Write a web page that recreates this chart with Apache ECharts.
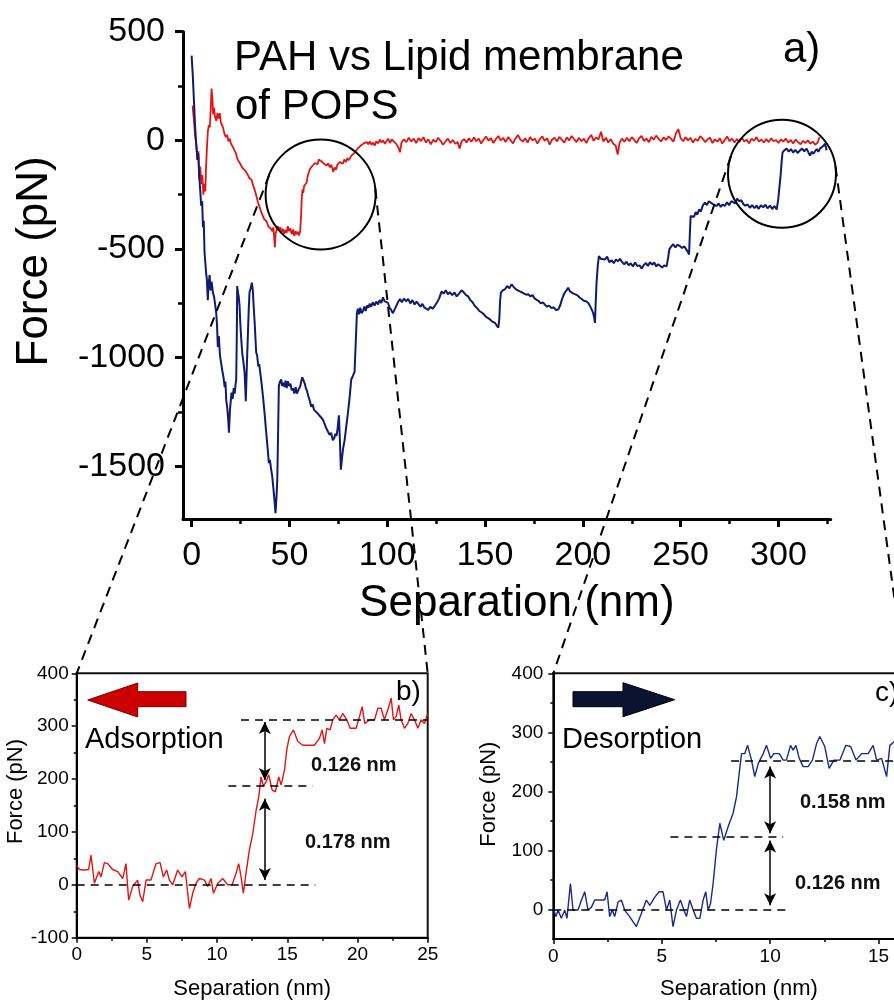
<!DOCTYPE html>
<html><head><meta charset="utf-8">
<script src="https://cdn.jsdelivr.net/npm/echarts@6/dist/echarts.min.js"></script>
<style>html,body{margin:0;padding:0;background:#fff}#c{width:894px;height:1001px}</style>
</head><body><div id="c"></div>
<script>
// ---------- data (nm, pN) ----------
const redMain = [
[0.5,160],[1.2,90],[1.8,20],[2.4,-20],[3.0,-90],[3.5,-50],[3.9,-180],[4.4,-120],[5.0,-200],[5.5,-160],[6.0,-250],[6.5,-200],[7.0,-235],[7.4,-120],[7.8,-40],[8.3,40],[8.8,70],[9.3,60],[9.8,150],[10.2,238],[10.6,200],[11.0,120],[11.5,150],[12.0,105],[12.6,90],[13.2,125],[13.8,100],[14.4,125],[15.0,80],[15.6,70],[16.2,54],[16.8,30],[17.5,15],[18.2,25],[18.8,-5],[19.5,8],[20.1,-15],[20.8,-12],[21.4,-35],[22.0,-48],[22.7,-60],[23.4,-85],[24.1,-92],[24.7,-105],[25.4,-112],[26.1,-128],[26.8,-122],[27.5,-140],[28.1,-135],[28.8,-160],[29.4,-172],[30.1,-168],[30.7,-182],[31.4,-205],[32.0,-222],[32.6,-240],[33.3,-262],[33.9,-285],[34.5,-300],[35.2,-318],[35.8,-335],[36.6,-340],[37.1,-362],[37.6,-358],[38.3,-372],[38.8,-385],[39.4,-398],[40.0,-392],[40.7,-408],[41.3,-418],[41.8,-400],[42.2,-445],[42.6,-492],[42.9,-430],[43.5,-412],[44.1,-395],[44.7,-415],[45.3,-400],[46.0,-422],[46.7,-407],[47.3,-430],[47.9,-412],[48.6,-425],[49.2,-395],[49.8,-418],[50.5,-405],[51.2,-432],[51.9,-410],[52.5,-440],[53.1,-418],[53.7,-432],[54.3,-420],[54.9,-438],[55.5,-418],[56.0,-340],[56.3,-265],[56.7,-225],[57.1,-242],[57.5,-210],[58.1,-218],[58.8,-195],[59.3,-165],[59.8,-150],[60.5,-132],[61.1,-140],[61.7,-118],[62.4,-124],[63.0,-105],[63.7,-98],[64.4,-110],[65.0,-88],[65.6,-84],[66.3,-96],[67.0,-90],[67.7,-108],[68.4,-100],[69.1,-116],[69.8,-106],[70.7,-124],[71.4,-112],[72.0,-132],[72.4,-146],[73.1,-125],[73.8,-135],[74.5,-112],[75.2,-118],[75.8,-100],[76.6,-92],[77.3,-108],[78.0,-88],[78.8,-100],[79.6,-82],[80.3,-92],[80.9,-85],[81.7,-70],[82.5,-78],[83.3,-58],[84.0,-50],[84.8,-38],[85.5,-44],[86.3,-25],[87.0,-32],[87.8,-15],[88.6,-24],[89.5,-8],[90.3,-18],[91.1,-5],[92.0,-20],[92.8,-10],[93.6,-24],[94.4,-4],[95.3,-14],[96.2,4],[97.0,-10],[97.9,0],[98.8,-16],[99.6,-4],[100.5,8],[101.4,-12],[102.3,4],
[103.2,2],[104.5,-15],[105.8,-35],[106.5,-55],[107.3,-10],[108.5,5],[109.8,-8],[111.0,12],[112.3,-5],[113.5,8],[114.8,-12],[116.0,10],[117.3,-3],[118.5,15],[119.8,-10],[121.0,5],[122.3,-18],[123.5,3],[124.8,-8],[126.0,12],[127.3,-2],[128.5,-20],[129.8,-5],[131.0,8],[132.3,-12],[133.5,2],[134.8,-15],[136.0,-8],[137.0,-38],[138.0,-5],[139.3,6],[140.5,-10],[141.8,10],[143.0,-6],[144.3,14],[145.5,-4],[146.8,8],[148.0,-15],[149.3,4],[150.5,18],[151.8,-2],[153.0,10],[154.3,-12],[155.5,6],[156.8,20],[158.0,0],[159.3,12],[160.5,-8],[161.8,15],[163.0,2],[164.3,-14],[165.5,8],[166.8,25],[168.0,5],[169.3,-6],[170.5,10],[171.8,-10],[173.0,15],[174.3,0],[175.5,8],[176.8,-15],[178.0,6],[179.3,18],[180.5,-2],[181.8,10],[183.0,-20],[184.3,4],[185.5,12],[186.8,-5],[188.0,16],[189.3,2],[190.5,-10],[191.8,14],[193.0,0],[194.3,20],[195.5,6],[196.8,-8],[198.0,12],[199.3,-4],[200.5,8],[201.8,-12],[203.0,10],[204.3,25],[205.5,-2],[206.8,14],[208.0,4],[209.3,40],[210.5,-5],[211.8,12],[213.0,-10],[214.3,6],[215.5,-15],[216.8,-25],[217.8,-65],[218.8,-10],[220.0,8],[221.3,-6],[222.5,12],[223.8,-4],[225.0,15],[226.3,2],[227.5,-12],[228.8,10],[230.0,20],[231.3,-3],[232.5,8],[233.8,-8],[235.0,16],[236.3,4],[237.5,22],[238.8,6],[240.0,-5],[241.3,14],[242.5,2],[243.8,18],[245.0,8],[246.3,-6],[247.5,30],[248.8,52],[250.0,10],[251.3,-4],[252.5,15],[253.8,0],[255.0,12],[256.3,-10],[257.5,6],[258.8,-2],[260.0,20],[261.3,8],[262.5,-8],[263.8,5],[265.0,12],[266.3,-12],[267.5,4],[268.8,-6],[270.0,10],[271.3,-15],[272.5,2],[273.8,18],[275.0,-4],[276.3,8],[277.5,-10],[278.8,6],[280.0,-8],[281.3,12],[282.5,-5],[283.8,3],[285.0,-14],[286.3,8],[287.5,-2],[288.8,15],[290.0,-6],[291.3,4],[292.5,-10],[293.8,6],[295.0,-8],[296.3,10],[297.5,-4],[298.8,2],[300.0,-12],[301.3,5],[302.5,-6],[303.8,8],[305.0,-10],[306.3,2],[307.5,-14],[308.8,4],[310.0,-8],[311.3,-18],[312.5,-2],[313.8,-12],[315.0,0],[316.3,-15],[317.5,-6],[318.8,-20],[320.0,-10],[321.0,15]
];
const blueMain = [
[0,390],[0.6,300],[1.2,180],[1.8,60],[2.4,-23],[3.0,-90],[3.4,-60],[3.8,-150],[4.4,-230],[4.9,-300],[5.4,-280],[5.8,-400],[6.2,-370],[6.6,-515],[7.0,-560],[7.4,-610],[7.8,-640],[8.3,-735],[8.7,-660],[9.2,-620],[9.7,-690],[10.2,-650],[10.9,-700],[11.5,-720],[12.1,-760],[12.6,-795],[13.0,-850],[13.4,-950],[13.9,-900],[14.5,-990],[15.1,-1025],[15.7,-1060],[16.3,-1090],[16.9,-1135],[17.3,-1110],[17.7,-1195],[18.2,-1230],[18.7,-1280],[19.1,-1345],[19.6,-1240],[20.0,-1200],[20.4,-1160],[21.0,-1190],[21.5,-1140],[22.0,-1165],[22.5,-1120],[22.8,-1100],[23.1,-900],[23.3,-670],[23.7,-700],[24.1,-720],[24.5,-760],[25.0,-860],[25.5,-930],[25.9,-980],[26.5,-1020],[27.1,-1070],[27.4,-1130],[27.7,-1200],[28.2,-1050],[28.8,-885],[29.2,-780],[29.6,-700],[30.2,-680],[30.8,-655],[31.3,-690],[31.7,-760],[32.3,-850],[33.0,-975],[33.5,-990],[34.1,-1040],[34.6,-1030],[35.1,-1070],[35.8,-1120],[36.5,-1180],[37.3,-1255],[38.0,-1330],[38.7,-1400],[39.5,-1485],[40.0,-1470],[40.6,-1510],[41.2,-1545],[41.8,-1600],[42.4,-1660],[42.9,-1715],[43.4,-1640],[43.8,-1560],[44.2,-1350],[44.6,-1130],[45.2,-1110],[45.8,-1100],[46.3,-1130],[46.9,-1115],[47.5,-1135],[48.0,-1105],[48.6,-1140],[49.2,-1108],[49.8,-1130],[50.5,-1120],[51.2,-1150],[51.8,-1140],[52.5,-1165],[53.2,-1135],[53.8,-1165],[54.3,-1155],[55.0,-1140],[55.6,-1130],[56.0,-1110],[56.6,-1090],[57.3,-1095],[57.9,-1120],[58.4,-1140],[58.9,-1150],[59.6,-1175],[60.3,-1195],[61.2,-1225],[61.9,-1215],[62.6,-1240],[63.5,-1235],[64.6,-1258],[65.4,-1250],[66.2,-1275],[67.1,-1285],[67.8,-1300],[68.6,-1320],[69.3,-1315],[69.7,-1340],[70.5,-1355],[71.3,-1345],[72.2,-1380],[72.9,-1370],[73.5,-1350],[74.1,-1360],[74.7,-1320],[75.3,-1265],[75.8,-1380],[76.3,-1515],[76.8,-1470],[77.4,-1420],[78.2,-1380],[79.0,-1320],[79.9,-1255],[80.8,-1180],[81.6,-1100],[82.4,-1085],[83.3,-1065],[83.9,-930],[84.5,-795],[85.0,-775],[85.6,-800],[86.2,-770],[86.9,-795],[87.6,-785],[88.3,-765],[89.0,-785],[89.7,-760],[90.4,-770],[91.0,-752],[91.8,-765],[92.6,-745],[93.5,-760],[94.4,-742],[95.3,-755],[96.1,-735],[97.0,-748],[97.8,-722],[98.6,-740],[99.4,-735],[100.4,-748],[101.2,-770],[102.0,-780],[102.9,-795],[103.9,-792],[104.7,-760],[105.5,-745],[106.5,-730],[107.5,-745],[108.5,-728],[109.6,-740],[110.7,-730],[111.8,-750],[112.9,-735],[114.0,-755],[115.0,-742],[115.9,-748],[117.0,-765],[118.0,-752],[119.0,-770],[120.0,-762],[121.0,-780],[122.0,-765],[123.2,-775],[124.4,-760],[125.5,-745],[126.5,-728],[127.8,-695],[128.8,-705],[130.0,-690],[131.0,-708],[132.0,-698],[133.2,-712],[134.4,-700],[135.5,-718],[136.7,-705],[138.0,-690],[139.2,-700],[140.3,-712],[141.4,-718],[142.5,-735],[143.6,-745],[144.8,-762],[146.0,-772],[147.1,-785],[148.3,-792],[149.4,-800],[150.5,-812],[151.6,-818],[152.7,-825],[153.9,-835],[155.1,-840],[156.0,-852],[156.8,-862],[157.3,-820],[157.7,-740],[158.1,-700],[159.0,-690],[160.2,-685],[161.3,-670],[162.4,-680],[163.6,-662],[164.7,-675],[165.8,-685],[166.8,-680],[167.8,-695],[169.0,-700],[170.0,-692],[171.0,-710],[172.1,-708],[173.2,-718],[174.3,-712],[175.4,-728],[176.4,-732],[177.5,-740],[178.5,-750],[179.6,-745],[180.6,-756],[181.7,-765],[182.8,-760],[184.0,-772],[185.1,-768],[186.2,-780],[187.4,-778],[188.4,-760],[189.2,-735],[190.0,-715],[190.8,-700],[191.6,-690],[192.5,-678],[193.4,-695],[194.3,-688],[195.2,-705],[196.0,-700],[197.1,-712],[198.2,-722],[199.4,-730],[200.5,-738],[201.6,-740],[202.8,-748],[203.8,-765],[204.6,-780],[205.3,-795],[205.8,-815],[206.2,-840],[206.6,-740],[207.0,-655],[207.6,-580],[208.2,-532],[209.2,-545],[210.2,-538],[211.3,-548],[212.4,-535],[213.5,-560],[214.7,-552],[215.8,-565],[216.9,-548],[218.0,-556],[219.0,-545],[220.1,-560],[221.2,-570],[222.3,-558],[223.4,-575],[224.5,-565],[225.6,-580],[226.7,-562],[227.8,-578],[229.0,-575],[230.1,-590],[231.2,-572],[232.3,-565],[233.3,-578],[234.3,-560],[235.4,-572],[236.5,-562],[237.5,-580],[238.5,-570],[239.4,-568],[240.5,-585],[241.6,-575],[242.8,-580],[243.6,-540],[244.2,-502],[245.0,-490],[246.2,-478],[247.3,-492],[248.4,-480],[249.6,-486],[250.7,-495],[251.9,-488],[253.1,-505],[253.8,-515],[254.3,-525],[254.7,-430],[255.1,-348],[256.0,-340],[256.8,-352],[257.7,-330],[258.5,-342],[259.4,-318],[260.3,-328],[261.3,-300],[262.4,-286],[263.4,-298],[264.4,-280],[265.4,-275],[266.3,-292],[267.3,-285],[268.4,-302],[269.4,-290],[270.5,-306],[271.5,-295],[272.6,-302],[273.7,-285],[274.8,-298],[275.9,-280],[276.9,-276],[277.9,-290],[278.9,-268],[279.9,-280],[281.0,-275],[282.0,-293],[283.1,-300],[284.2,-295],[285.4,-310],[286.5,-298],[287.7,-312],[288.8,-300],[289.9,-315],[291.0,-298],[292.2,-308],[293.3,-296],[294.4,-312],[295.7,-300],[296.8,-316],[297.9,-302],[299.1,-318],[299.9,-270],[300.5,-215],[301.1,-160],[301.6,-100],[302.1,-55],[303.1,-45],[304.2,-38],[305.3,-52],[306.4,-40],[307.5,-56],[308.6,-44],[309.8,-58],[311.0,-46],[312.1,-38],[313.2,-50],[314.4,-38],[315.3,-55],[316.1,-70],[317.0,-52],[317.9,-62],[318.7,-50],[319.6,-40],[320.4,-52],[321.2,-38],[322.1,-45],[323.0,-25],[323.8,-15],[324.6,-45]
];
const redB = [
[0,37],[0.19,29],[0.54,28],[0.85,29],[1.02,56],[1.26,3],[1.57,25],[1.73,15],[1.97,42],[2.21,40],[2.56,29],[2.92,25],[3.28,12],[3.51,40],[3.70,-29],[3.99,-3],[4.34,9],[4.51,-20],[4.70,-32],[4.94,9],[5.29,9],[5.65,40],[5.94,42],[6.17,15],[6.41,28],[6.60,9],[6.84,0],[7.19,28],[7.50,15],[7.74,25],[8.03,-45],[8.26,-16],[8.50,3],[8.74,12],[9.10,9],[9.33,-3],[9.57,12],[9.74,-16],[10.05,3],[10.40,12],[10.76,0],[11.07,0],[11.35,22],[11.54,40],[11.71,15],[11.87,-16],[12.06,22],[12.30,66],[12.54,97],[12.78,141],[12.97,167],[13.13,204],[13.30,186],[13.49,195],[13.68,208],[13.92,179],[14.15,176],[14.39,204],[14.56,189],[14.80,217],[14.96,255],[15.15,280],[15.44,293],[15.75,271],[16.10,264],[16.58,264],[16.93,264],[17.29,277],[17.48,293],[17.65,267],[17.81,296],[18.05,293],[18.24,312],[18.48,321],[18.71,312],[18.95,324],[19.24,312],[19.48,296],[19.90,296],[20.14,318],[20.33,337],[20.52,305],[20.85,312],[21.21,312],[21.45,334],[21.68,334],[21.92,312],[22.16,331],[22.40,353],[22.56,312],[22.75,318],[22.94,340],[23.11,312],[23.35,296],[23.58,305],[23.82,324],[24.06,312],[24.30,296],[24.53,312],[24.77,305],[25.0,324]
];
const blueC = [
[0,2],[0.12,-12],[0.22,-1],[0.37,-15],[0.53,-1],[0.63,-15],[0.79,44],[0.91,-1],[1.14,-1],[1.30,16],[1.45,30],[1.60,-1],[1.76,4],[1.91,16],[2.14,16],[2.37,16],[2.48,30],[2.60,-12],[2.72,-1],[2.83,-12],[2.99,13],[3.14,16],[3.29,-1],[3.52,-12],[3.83,-29],[4.06,-7],[4.29,16],[4.45,7],[4.68,21],[4.88,30],[5.06,30],[5.22,-1],[5.37,16],[5.52,-29],[5.68,-1],[5.86,16],[6.02,-1],[6.14,-12],[6.29,16],[6.45,-1],[6.60,-15],[6.76,-15],[6.91,16],[7.03,30],[7.14,-1],[7.25,10],[7.37,44],[7.52,101],[7.68,146],[7.86,117],[8.06,140],[8.29,163],[8.45,191],[8.57,230],[8.68,264],[8.83,264],[8.96,278],[9.14,253],[9.29,225],[9.45,247],[9.68,264],[9.83,278],[10.02,256],[10.17,264],[10.42,264],[10.60,253],[10.75,253],[10.94,278],[11.06,270],[11.19,278],[11.34,256],[11.52,242],[11.75,242],[11.95,253],[12.14,281],[12.29,293],[12.52,276],[12.72,239],[12.94,253],[13.22,253],[13.49,278],[13.71,276],[13.96,253],[14.22,264],[14.52,264],[14.75,278],[14.91,253],[15.14,256],[15.37,225],[15.52,278],[15.72,284],[16.0,262],[16.3,250]
];
// tick values
const mainXMajor = [0,50,100,150,200,250,300];
const mainXMinor = [25,75,125,175,225,275,325];
const mainYMajor = [-1500,-1000,-500,0,500];
const mainYMinor = [-1250,-750,-250,250];
const bXMajor = [0,5,10,15,20,25];
const bXMinor = [2.5,7.5,12.5,17.5,22.5];
const bYMajor = [-100,0,100,200,300,400];
const bYMinor = [-50,50,150,250,350];
const cXMajor = [0,5,10,15];
const cXMinor = [2.5,7.5,12.5];
const cYMajor = [0,100,200,300,400];
const cYMinor = [50,150,250,350];
// annotations (data units)
const bLevels = [[11.7,25,312],[10.8,16.8,187],[0,17,0]];
const bArrows = [[13.4,308,198],[13.4,163,9]];
const cLevels = [[8.2,16.2,252],[5.4,10.6,123],[0,10.75,0]];
const cArrows = [[10.0,242,129],[10.0,117,7]];
const zoomCircles = [[65.95,-249],[301.8,-154]];
const titleLines = ['PAH vs Lipid membrane','of POPS'];
const bStepLabels = ['0.126 nm','0.178 nm'];
const cStepLabels = ['0.158 nm','0.126 nm'];

const FONT = '"Liberation Sans", Arial, Helvetica, sans-serif';
const plain = v => String(v);

function axes(kind, gi, min, max, major, minor, st) {
  const base = {gridIndex: gi, type: 'value', min, max, position: kind === 'x' ? 'bottom' : 'left', splitLine: {show: false}};
  const a = Object.assign({}, base, {
    axisLine: {show: true, onZero: false, lineStyle: {color: '#000', width: st.lw}},
    axisTick: {show: true, inside: false, length: st.tl, lineStyle: {color: '#000', width: st.tw}, customValues: major},
    axisLabel: {show: true, customValues: major, formatter: plain, color: '#000', fontSize: st.fs, fontFamily: FONT, margin: st.margin},
    name: st.name, nameLocation: 'middle', nameGap: st.gap,
    nameTextStyle: {fontSize: st.nfs, fontFamily: FONT, color: '#000', padding: st.npad || 0}
  });
  const b = Object.assign({}, base, {
    axisLine: {show: false, onZero: false},
    axisTick: {show: true, inside: false, length: st.ml, lineStyle: {color: '#000', width: st.mw}, customValues: minor},
    axisLabel: {show: false}
  });
  return [a, b];
}

const xAxes = [].concat(
  axes('x', 0, -4.4, 326.7, mainXMajor, mainXMinor, {lw:3, tl:8, tw:3, fs:34, margin:20, name:'Separation (nm)', gap:63, nfs:44, npad:[0,0,0,20], ml:5, mw:2.5}),
  axes('x', 1, 0, 25, bXMajor, bXMinor, {lw:2, tl:5, tw:1.5, fs:19, margin:8, name:'Separation (nm)', gap:40, nfs:22, ml:3, mw:1.5}),
  axes('x', 2, 0, 16.2, cXMajor, cXMinor, {lw:2, tl:5, tw:1.5, fs:19, margin:8, name:'Separation (nm)', gap:39, nfs:22, npad:[0,0,0,20], ml:3, mw:1.5})
);
const yAxes = [].concat(
  axes('y', 0, -1742, 500, mainYMajor, mainYMinor, {lw:3, tl:8, tw:3, fs:34, margin:18, name:'Force (pN)', gap:126, nfs:44, npad:[0,0,0,28], ml:5, mw:2.5}),
  axes('y', 1, -100, 400, bYMajor, bYMinor, {lw:2, tl:5, tw:1.5, fs:19, margin:8, name:'Force (pN)', gap:50, nfs:22, npad:[0,0,0,28], ml:3, mw:1.5}),
  axes('y', 2, -50, 400, cYMajor, cYMinor, {lw:2, tl:5, tw:1.5, fs:19, margin:10, name:'Force (pN)', gap:53, nfs:22, npad:[0,0,0,24], ml:3, mw:1.5})
);

function markLines(levels, arrows) {
  const data = [];
  levels.forEach(l => data.push([{coord: [l[0], l[2]]}, {coord: [l[1], l[2]]}]));
  arrows.forEach(a => data.push([
    {coord: [a[0], a[1]], symbol: 'arrow', symbolSize: [9, 12], lineStyle: {type: 'solid', width: 1.5, color: '#000'}, itemStyle: {color: '#000'}},
    {coord: [a[0], a[2]], symbol: 'arrow', symbolSize: [9, 12], itemStyle: {color: '#000'}}
  ]));
  return {silent: true, symbol: ['none', 'none'], label: {show: false}, emphasis: {disabled: true},
    lineStyle: {color: '#000', width: 1.5, type: [8, 6]}, itemStyle: {color: '#000'}, animation: false, data};
}

const option = {
  animation: false,
  backgroundColor: '#fff',
  grid: [
    {left: 183, right: 63.3, top: 31.7, bottom: 482, outerBoundsMode: 'none', containLabel: false},
    {left: 76.7, right: 466.3, top: 673.3, bottom: 63.3, show: true, borderColor: '#111', borderWidth: 2, outerBoundsMode: 'none', containLabel: false},
    {left: 553.3, right: -10.6, top: 673.3, bottom: 62, show: true, borderColor: '#111', borderWidth: 2, outerBoundsMode: 'none', containLabel: false}
  ],
  xAxis: xAxes,
  yAxis: yAxes,
  series: [
    {type: 'line', xAxisIndex: 0, yAxisIndex: 0, data: redMain, showSymbol: false, symbol: 'none', lineStyle: {color: '#e31414', width: 1.8}, itemStyle: {color: '#e31414'}, z: 2},
    {type: 'line', xAxisIndex: 0, yAxisIndex: 0, data: blueMain, showSymbol: false, symbol: 'none', lineStyle: {color: '#101a70', width: 2}, itemStyle: {color: '#101a70'}, z: 3},
    {type: 'line', xAxisIndex: 2, yAxisIndex: 2, data: redB, showSymbol: false, symbol: 'none', lineStyle: {color: '#e31414', width: 1.4}, itemStyle: {color: '#e31414'}, markLine: markLines(bLevels, bArrows)},
    {type: 'line', xAxisIndex: 4, yAxisIndex: 4, data: blueC, showSymbol: false, symbol: 'none', lineStyle: {color: '#1a2a8a', width: 1.4}, itemStyle: {color: '#1a2a8a'}, markLine: markLines(cLevels, cArrows)}
  ]
};

const chart = echarts.init(document.getElementById('c'));
chart.setOption(option);

function px(ax, ay, v) { return chart.convertToPixel({xAxisIndex: ax, yAxisIndex: ay}, v); }
function tangent(c, r, p, side) {
  const dx = p[0] - c[0], dy = p[1] - c[1];
  const d = Math.hypot(dx, dy), th = Math.atan2(dy, dx), a = Math.acos(r / d);
  const ang = th + side * a;
  return [c[0] + r * Math.cos(ang), c[1] + r * Math.sin(ang)];
}
function txt(t, x, y, size, weight, color) {
  return {type: 'text', x, y, z: 100, silent: true,
    style: {text: t, fill: color || '#000', fontSize: size, fontFamily: FONT, fontWeight: weight || 'normal',
      textAlign: 'left', textVerticalAlign: 'middle', align: 'left', verticalAlign: 'middle'}};
}

const c1 = px(0, 0, zoomCircles[0]), c2 = px(0, 0, zoomCircles[1]);
const r1 = 55, r2 = 54;
const bTL = px(2, 2, [0, 400]), bTR = px(2, 2, [25, 400]);
const cTL = px(4, 4, [0, 400]), cTR = px(4, 4, [16.2, 400]);
const dash = {stroke: '#000', lineWidth: 2, lineDash: [10, 7], fill: null};
function dline(a, b) { return {type: 'line', z: 90, silent: true, shape: {x1: a[0], y1: a[1], x2: b[0], y2: b[1]}, style: dash}; }
const tA = tangent(c1, r1, bTL, 1), tB = tangent(c1, r1, bTR, -1);
const tC = tangent(c2, r2, cTL, 1), tD = tangent(c2, r2, cTR, -1);

const graphics = [
  txt(titleLines[0], 234, 58.4, 42),
  txt(titleLines[1], 235, 107.4, 42),
  txt('a)', 783, 50.4, 42),
  {type: 'circle', z: 90, silent: true, shape: {cx: c1[0], cy: c1[1], r: r1}, style: {stroke: '#000', lineWidth: 2, fill: null}},
  {type: 'circle', z: 90, silent: true, shape: {cx: c2[0], cy: c2[1], r: r2}, style: {stroke: '#000', lineWidth: 2, fill: null}},
  dline(tA, bTL), dline(tB, bTR), dline(tC, cTL), dline(tD, cTR),
  {type: 'polygon', z: 95, silent: true, shape: {points: [[87.7,700],[137.7,683],[137.7,691.7],[186,691.7],[186,706.7],[137.7,706.7],[137.7,717]]}, style: {fill: '#cc0000', stroke: '#7a0000', lineWidth: 1}},
  {type: 'polygon', z: 95, silent: true, shape: {points: [[573,691.7],[623,691.7],[623,682.7],[674.7,699.7],[623,716.7],[623,706.7],[573,706.7]]}, style: {fill: '#0b1330', stroke: '#000', lineWidth: 1}},
  txt('Adsorption', 85, 740, 29),
  txt('Desorption', 562, 740, 29),
  txt('b)', 396, 692, 28),
  txt('c)', 875, 693, 28),
  txt(bStepLabels[0], 311, 765, 20, 'bold', '#111'),
  txt(bStepLabels[1], 305, 842, 20, 'bold', '#111'),
  txt(cStepLabels[0], 800, 802, 20, 'bold', '#111'),
  txt(cStepLabels[1], 795, 883, 20, 'bold', '#111')
];
chart.setOption({graphic: graphics});
</script>
</body></html>
